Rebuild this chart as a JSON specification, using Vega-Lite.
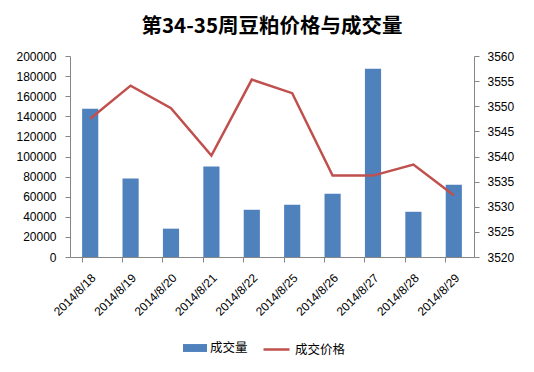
{
  "$schema": "https://vega.github.io/schema/vega-lite/v6.json",
  "width": 404,
  "height": 201,
  "autosize": "none",
  "padding": {"left": 70, "top": 56, "right": 60, "bottom": 115},
  "background": "white",
  "title": {"text": "第34-35周豆粕价格与成交量", "font": "Noto Sans CJK SC", "fontSize": 20.5, "fontWeight": "bold", "color": "#000000", "offset": 13, "anchor": "middle"},
  "config": {
    "view": {"stroke": null},
    "axis": {"labelFont": "Liberation Sans", "labelFontSize": 12, "labelColor": "#000000", "domainColor": "#868686", "tickColor": "#868686", "grid": false, "tickSize": 5, "title": null},
    "legend": {"labelFont": "Noto Sans CJK SC", "labelFontSize": 12.5, "labelColor": "#000000"}
  },
  "data": {"values": [
    {"date": "2014/8/18", "vol": 147500, "price": 3547.5},
    {"date": "2014/8/19", "vol": 78000, "price": 3554.1},
    {"date": "2014/8/20", "vol": 28200, "price": 3549.6},
    {"date": "2014/8/21", "vol": 90000, "price": 3540.2},
    {"date": "2014/8/22", "vol": 47000, "price": 3555.3},
    {"date": "2014/8/25", "vol": 52000, "price": 3552.6},
    {"date": "2014/8/26", "vol": 63000, "price": 3536.2},
    {"date": "2014/8/27", "vol": 187400, "price": 3536.2},
    {"date": "2014/8/28", "vol": 45000, "price": 3538.4},
    {"date": "2014/8/29", "vol": 72000, "price": 3532.3}
  ]},
  "layer": [
    {
      "mark": {"type": "bar"},
      "encoding": {
        "x": {"field": "date", "type": "ordinal", "sort": null, "scale": {"paddingInner": 0.6, "paddingOuter": 0.3},
              "axis": {"labelAngle": -45, "ticks": false, "labelPadding": 15, "domain": true}},
        "y": {"field": "vol", "type": "quantitative", "scale": {"domain": [0, 200000], "nice": false},
              "axis": {"values": [0,20000,40000,60000,80000,100000,120000,140000,160000,180000,200000], "format": "d", "labelPadding": 9}},
        "fill": {"datum": "成交量", "type": "nominal", "scale": {"range": ["#4F81BD"]},
                 "legend": {"orient": "none", "legendX": 113, "legendY": 280, "title": null, "symbolType": "M-1,-0.33H1V0.33H-1Z", "symbolSize": 576, "symbolStrokeWidth": 0, "labelOffset": 3}}
      }
    },
    {
      "mark": {"type": "line", "strokeWidth": 2.5},
      "encoding": {
        "x": {"field": "date", "type": "ordinal", "sort": null,
              "axis": {"bandPosition": 0, "labels": false, "ticks": true, "domain": false, "orient": "bottom"}},
        "y": {"field": "price", "type": "quantitative", "scale": {"domain": [3520, 3560], "nice": false, "zero": false},
              "axis": {"orient": "right", "values": [3520,3525,3530,3535,3540,3545,3550,3555,3560], "format": "d", "labelPadding": 8}},
        "stroke": {"datum": "成交价格", "type": "nominal", "scale": {"range": ["#C0504D"]},
                   "legend": {"orient": "none", "legendX": 192, "legendY": 279, "title": null, "symbolType": "stroke", "symbolSize": 676, "symbolStrokeWidth": 2.5, "labelOffset": 4}}
      }
    }
  ],
  "resolve": {"scale": {"y": "independent", "fill": "independent", "stroke": "independent"}, "axis": {"x": "independent"}}
}
